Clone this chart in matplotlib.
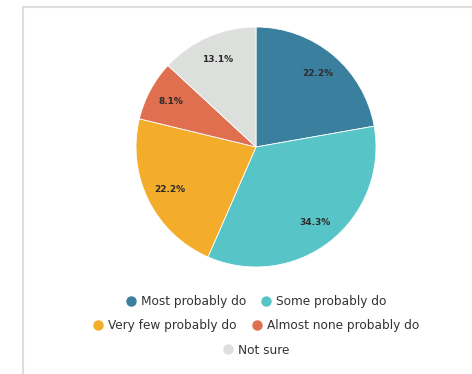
import matplotlib.pyplot as plt
from matplotlib.lines import Line2D

labels = ["Most probably do", "Some probably do", "Very few probably do",
          "Almost none probably do", "Not sure"]
shares = [22.2, 34.3, 22.2, 8.1, 13.1]
colors = ["#3b7f9f", "#57c5c7", "#f4ac2b", "#df6f4f", "#dcdfdc"]

W, H = 472, 374
fig = plt.figure(figsize=(W / 100, H / 100), dpi=100)
fig.patch.set_facecolor("white")

# light card border (top and left only visible)
fig.add_artist(Line2D([23 / W, 23 / W], [0, 1 - 7 / H], color="#dedede", lw=1.5,
                      transform=fig.transFigure))
fig.add_artist(Line2D([23 / W, 1], [1 - 7 / H, 1 - 7 / H], color="#dedede", lw=1.5,
                      transform=fig.transFigure))

# pie: centre (256,147), radius 120 px
ax = fig.add_axes([136 / W, 1 - 267 / H, 240 / W, 240 / H])
wedges, texts, autotexts = ax.pie(
    shares, colors=colors, startangle=90, counterclock=False,
    autopct=lambda p: f"{p:.1f}%", pctdistance=0.8,
    wedgeprops=dict(edgecolor="white", linewidth=0.6),
    textprops=dict(fontsize=6.5, color="#2b2b2b", fontweight="bold"),
)
for t, v in zip(autotexts, shares):
    t.set_text(f"{v}%")
ax.set_aspect("equal")
ax.set_xlim(-1, 1)
ax.set_ylim(-1, 1)

def handle(c):
    return Line2D([], [], marker="o", linestyle="", markersize=6.5,
                  markerfacecolor=c, markeredgecolor=c)

rows = [([0, 1], 302), ([2, 3], 326), ([4], 350)]
for idx, y in rows:
    fig.legend([handle(colors[i]) for i in idx], [labels[i] for i in idx],
               loc="center", bbox_to_anchor=(256 / W, 1 - y / H),
               ncol=len(idx), frameon=False, fontsize=8.7,
               handletextpad=0.4, columnspacing=1.2, handlelength=0.9,
               labelcolor="#333333", borderpad=0, borderaxespad=0)

fig.savefig("out.png", dpi=100)
